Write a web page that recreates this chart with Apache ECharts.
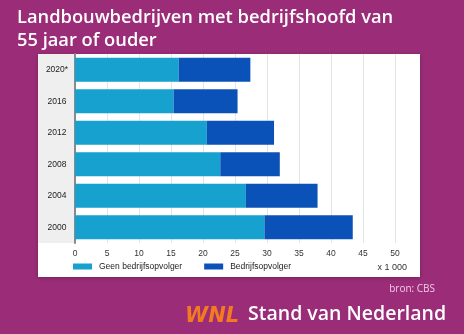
<!DOCTYPE html>
<html><head><meta charset="utf-8">
<script src="https://cdn.jsdelivr.net/npm/echarts@6/dist/echarts.min.js"></script>
<style>html,body{margin:0;padding:0;background:#9b2d78;}#c{width:464px;height:334px;}</style>
</head><body><div id="c"></div>
<script>
const categories = ['2000', '2004', '2008', '2012', '2016', '2020*'];
const geenOpvolger = [29.6, 26.7, 22.7, 20.6, 15.4, 16.2];
const welOpvolger = [13.8, 11.2, 9.3, 10.5, 10.0, 11.2];
const xTicks = [0, 5, 10, 15, 20, 25, 30, 35, 40, 45, 50];
const seriesNames = ['Geen bedrijfsopvolger', 'Bedrijfsopvolger'];

const chart = echarts.init(document.getElementById('c'), null, {renderer: 'canvas'});
chart.setOption({
  backgroundColor: '#9b2d78',
  animation: false,
  graphic: [
    {type: 'rect', shape: {x: 38, y: 54, width: 382, height: 223}, style: {fill: '#ffffff', shadowBlur: 4, shadowColor: 'rgba(0,0,0,0.25)', shadowOffsetY: 1}, z: -10},
    {type: 'rect', shape: {x: 38, y: 54, width: 37, height: 189}, style: {fill: '#efefef'}, z: -9},
    {type: 'text', left: 17, top: 6, style: {text: 'Landbouwbedrijven met bedrijfshoofd van\n55 jaar of ouder', fill: '#ffffff', font: '600 18.3px "Open Sans", sans-serif', lineHeight: 23}},
    {type: 'text', right: 57, top: 263, style: {text: 'x 1 000', fill: '#333333', font: '9px "Liberation Sans", sans-serif'}},
    {type: 'text', right: 29, top: 284, style: {text: 'bron: CBS', fill: '#f3c9e4', font: '10px "Open Sans", sans-serif'}},
    {type: 'text', left: 185, top: 306, style: {text: 'WNL', fill: '#f47a1f', font: 'italic 900 21px "DejaVu Sans", sans-serif'}},
    {type: 'text', left: 248, top: 304, style: {text: 'Stand van Nederland', fill: '#ffffff', font: '600 19.5px "Open Sans", sans-serif'}}
  ],
  legend: {
    data: seriesNames,
    left: 73, top: 262, padding: 0,
    itemWidth: 19, itemHeight: 6, itemGap: 22,
    icon: 'rect',
    textStyle: {fontSize: 8.5, color: '#222', fontFamily: '"Liberation Sans", sans-serif', padding: [0, 0, 0, 2]}
  },
  grid: {left: 75, right: 69, top: 54, bottom: 91},
  xAxis: {
    type: 'value', min: 0, max: 50, interval: 5,
    axisLine: {show: false}, axisTick: {show: false},
    axisLabel: {fontSize: 8.5, color: '#333', margin: 6, fontFamily: '"Liberation Sans", sans-serif',
      formatter: v => xTicks.includes(v) ? String(v) : ''},
    splitLine: {lineStyle: {color: '#e4e4e4', width: 1}}
  },
  yAxis: {
    type: 'category', data: categories,
    axisLine: {show: true, lineStyle: {color: '#8a8a8a', width: 2}},
    axisTick: {show: false},
    axisLabel: {fontSize: 8.5, color: '#222', align: 'center', margin: 18, fontFamily: '"Liberation Sans", sans-serif'}
  },
  series: [
    {name: seriesNames[0], type: 'bar', stack: 't', data: geenOpvolger, barWidth: 24,
      itemStyle: {color: '#16a1cf'}},
    {name: seriesNames[1], type: 'bar', stack: 't', data: welOpvolger, barWidth: 24,
      itemStyle: {color: '#0b52b8'}}
  ]
});
</script></body></html>
